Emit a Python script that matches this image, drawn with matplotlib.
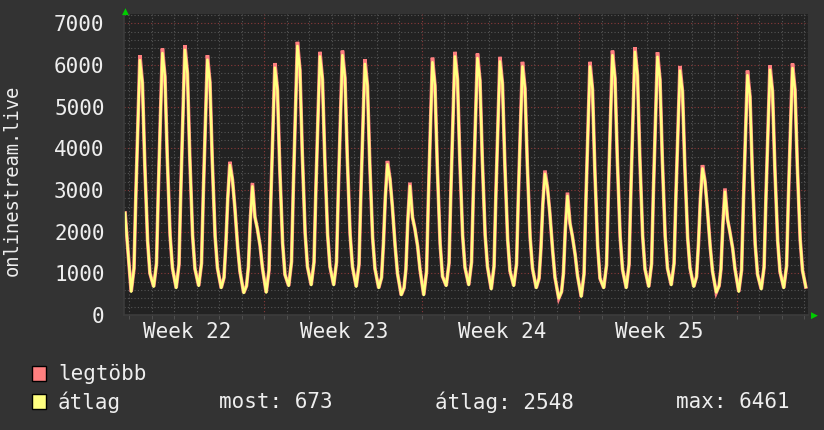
import matplotlib
matplotlib.use("Agg")
import matplotlib.pyplot as plt
from matplotlib.patches import Rectangle
from matplotlib.ticker import MultipleLocator

hour_marks = [2, 5, 7, 9, 11.3, 14, 16.5, 19.5, 22]

# average ("átlag") viewers per day, day 0 is the partial first day
avg_rows = [
    [None, None, None, None, None, None, None, 2450, 1700],
    [560, 1120, 2900, 4450, 6120, 5560, 3620, 1780, 1000],
    [680, 1240, 3040, 4610, 6290, 5730, 3770, 1910, 1130],
    [650, 1220, 3050, 4650, 6370, 5800, 3800, 1910, 1110],
    [700, 1240, 2980, 4500, 6130, 5590, 3690, 1890, 1130],
    [650, 900, 1700, 2800, 3600, 3250, 2600, 1650, 1050],
    [530, 700, 1150, 2250, 3090, 2350, 2080, 1660, 1130],
    [540, 1080, 2810, 4320, 5940, 5400, 3510, 1730, 970],
    [700, 1280, 3120, 4730, 6461, 5880, 3870, 1970, 1160],
    [720, 1270, 3030, 4560, 6210, 5660, 3740, 1930, 1160],
    [720, 1270, 3040, 4580, 6240, 5690, 3760, 1930, 1160],
    [680, 1220, 2930, 4430, 6030, 5500, 3620, 1860, 1110],
    [650, 900, 1700, 2800, 3620, 3270, 2620, 1660, 1000],
    [480, 650, 1100, 2250, 3100, 2350, 2080, 1650, 1100],
    [480, 1040, 2830, 4390, 6070, 5510, 3550, 1710, 930],
    [700, 1250, 3010, 4560, 6210, 5660, 3730, 1910, 1140],
    [720, 1270, 3010, 4540, 6170, 5630, 3720, 1920, 1160],
    [620, 1170, 2920, 4450, 6090, 5540, 3630, 1820, 1060],
    [700, 1230, 2910, 4390, 5970, 5440, 3600, 1860, 1120],
    [650, 880, 1600, 2650, 3390, 3050, 2450, 1550, 900],
    [400, 560, 1000, 2050, 2860, 2200, 1900, 1450, 950],
    [440, 990, 2760, 4310, 5970, 5420, 3480, 1660, 880],
    [650, 1210, 2990, 4560, 6240, 5680, 3720, 1880, 1100],
    [650, 1220, 3030, 4620, 6320, 5750, 3770, 1900, 1100],
    [680, 1230, 3000, 4540, 6200, 5650, 3720, 1890, 1120],
    [720, 1240, 2880, 4330, 5870, 5360, 3550, 1850, 1130],
    [680, 920, 1700, 2750, 3520, 3200, 2550, 1650, 1050],
    [540, 700, 1100, 2150, 2960, 2300, 2000, 1600, 1100],
    [560, 1080, 2740, 4200, 5760, 5240, 3420, 1700, 980],
    [620, 1150, 2830, 4310, 5890, 5360, 3520, 1780, 1040],
    [650, 1180, 2870, 4350, 5930, 5400, 3550, 1810, 1070],
]
# daily maxima ("legtöbb") peaks for days 1..30
max_peaks = [6240, 6400, 6480, 6240, 3680, 3170, 6050, 6560, 6320, 6350,
             6140, 3700, 3180, 6180, 6320, 6280, 6200, 6080, 3470, 2940,
             6080, 6350, 6430, 6310, 5980, 3600, 3040, 5870, 6000, 6040]
last_day, last_hour, last_value = 31, 1.5, 673

week_labels = ["Week 22", "Week 23", "Week 24", "Week 25"]
legend_stats = [("most:", "673"), ("átlag:", "2548"), ("max:", "6461")]

BG = "#333333"
PLOT_BG = "#222222"
TXT = "#eeeeee"
RED = "#ff8080"
YEL = "#ffff80"
MONO = "DejaVu Sans Mono"

t, avg, mx = [], [], []
for day, row in enumerate(avg_rows):
    for j, (h, v) in enumerate(zip(hour_marks, row)):
        if v is None:
            continue
        t.append(day + h / 24)
        avg.append(v)
        if j == 4 and day >= 1:
            mx.append(max_peaks[day - 1])
        else:
            mx.append(v)
t.append(last_day + last_hour / 24)
avg.append(last_value)
mx.append(last_value)

W, H = 824, 430
fig = plt.figure(figsize=(W / 100, H / 100), dpi=100, facecolor=BG)
ax = fig.add_axes([124 / W, (H - 315) / H, (808 - 124) / W, (315 - 14) / H])
ax.set_facecolor(PLOT_BG)

ax.set_xlim(0.764, 31.16)
ax.set_ylim(0, 7228)

ax.yaxis.set_major_locator(MultipleLocator(1000))
ax.yaxis.set_minor_locator(MultipleLocator(200))
ax.xaxis.set_major_locator(MultipleLocator(7))
ax.xaxis.set_minor_locator(MultipleLocator(1))
ax.grid(which="minor", color="#555555", linestyle=(0, (1, 2)), linewidth=0.8)
ax.grid(which="major", color="#8a3a3a", linestyle=(0, (1, 2)), linewidth=0.8)
ax.set_axisbelow(True)

ax.plot(t, mx, color=RED, linewidth=2.6, solid_joinstyle="miter")
ax.plot(t, avg, color=YEL, linewidth=1.8)

for s in ["top", "right"]:
    ax.spines[s].set_visible(False)
for s in ["left", "bottom"]:
    ax.spines[s].set_color("#3c3c3c")
    ax.spines[s].set_linewidth(1.2)

ax.tick_params(axis="y", which="both", length=0, colors=TXT, labelsize=15, pad=14)
ax.tick_params(axis="x", which="both", length=3, color="#555555", labelbottom=False)
for lab in ax.get_yticklabels():
    lab.set_family(MONO)

for i, wl in enumerate(week_labels):
    ax.text(7 * i + 3.55, -0.055, wl, transform=ax.get_xaxis_transform(),
            ha="center", va="center", fontsize=15, family=MONO, color=TXT)

fig.text(12 / W, 1 - 180 / H, "onlinestream.live", rotation=90, ha="center",
         va="center", fontsize=13.5, family=MONO, color=TXT)

# axis arrows
fig.text(125 / W, 1 - 11 / H, "▲", ha="center", va="center", fontsize=6.5,
         color="#00cc00", family="DejaVu Sans")
fig.text(814 / W, 1 - 315 / H, "▶", ha="center", va="center", fontsize=6.5,
         color="#00cc00", family="DejaVu Sans")

# legend
for y0, col, name in [(366, RED, "legtöbb"), (394, YEL, "átlag")]:
    fig.patches.append(Rectangle((32 / W, 1 - (y0 + 15) / H), 14 / W, 15 / H,
                                 transform=fig.transFigure, facecolor=col,
                                 edgecolor="black", linewidth=1))
    fig.text(58 / W, 1 - (y0 + 8) / H, name, ha="left", va="center",
             fontsize=15, family=MONO, color=TXT)

stat_x = [219, 435, 676]
for x0, (k, v) in zip(stat_x, legend_stats):
    fig.text(x0 / W, 1 - 402 / H, f"{k} {v}", ha="left", va="center",
             fontsize=15, family=MONO, color=TXT)

fig.savefig("out.png", dpi=100, facecolor=BG)
